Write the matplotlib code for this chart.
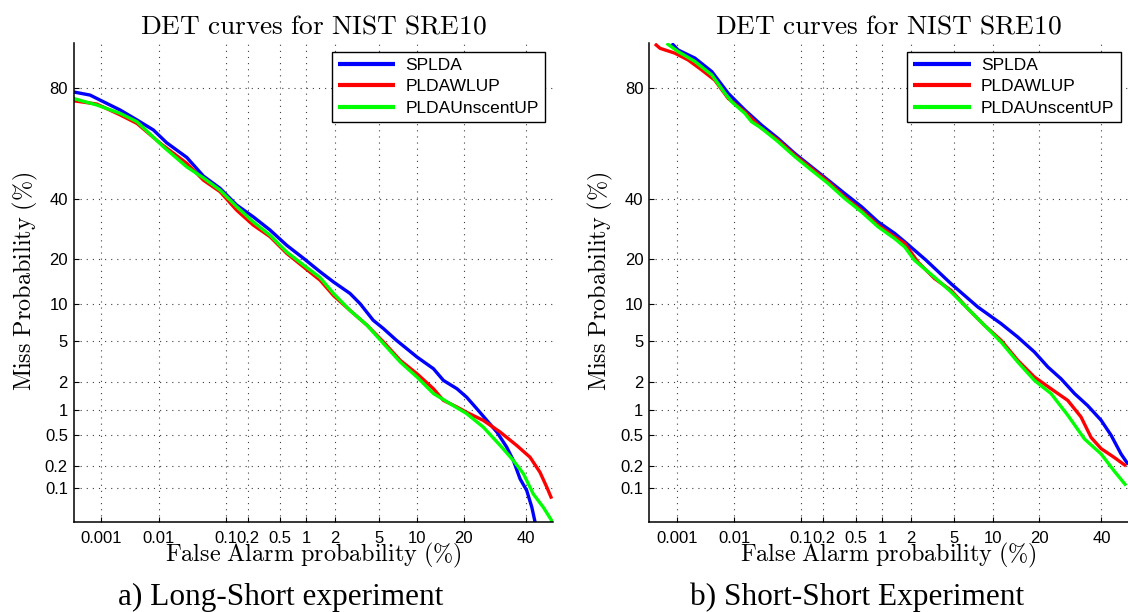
import math
from statistics import NormalDist

import numpy as np
import matplotlib
matplotlib.use("Agg")
import matplotlib.pyplot as plt
from matplotlib.ticker import FixedLocator, FixedFormatter, NullLocator

plt.rcParams["mathtext.fontset"] = "cm"

# ---------------------------------------------------------------- data (%)
series_names = ["SPLDA", "PLDAWLUP", "PLDAUnscentUP"]
series_colors = ["#0000ff", "#ff0000", "#00ff00"]

# a) Long-Short experiment
ls_fa_splda = [0.0003, 0.00062, 0.0011, 0.0022, 0.0043, 0.0081, 0.0133, 0.0274, 0.0485,
               0.084, 0.142, 0.234, 0.38, 0.60, 0.93, 1.40, 1.92, 2.78, 3.45, 4.5, 5.5,
               7.0, 10.0, 13.0, 15.1, 18.3, 20.8, 23.7, 26.7, 29.9, 33.2, 35.5, 37.9,
               40.3, 42.2, 43.4]
ls_miss_splda = [78.9, 78.0, 76.0, 73.4, 70.1, 66.6, 61.9, 56.3, 49.0,
                 44.2, 37.8, 33.5, 28.9, 24.0, 20.2, 16.7, 14.3, 11.9, 10.0, 7.44, 6.35,
                 5.04, 3.55, 2.74, 2.09, 1.71, 1.39, 1.03, 0.757, 0.548, 0.355, 0.238, 0.133,
                 0.091, 0.051, 0.030]

ls_fa_wlup = [0.0003, 0.00083, 0.0022, 0.0043, 0.0105, 0.0274, 0.0485, 0.084, 0.142,
              0.234, 0.38, 0.60, 0.93, 1.40, 1.92, 2.78, 3.96, 5.5, 7.5, 10.0, 13.0,
              15.1, 18.3, 20.8, 25.6, 31.0, 36.7, 41.5, 45.2, 47.8, 49.6]
ls_miss_wlup = [76.3, 75.3, 71.8, 68.9, 61.7, 54.0, 47.4, 42.9, 35.9,
                30.6, 26.7, 21.6, 17.9, 14.7, 11.5, 8.9, 6.8, 4.87, 3.30, 2.44, 1.71,
                1.28, 1.08, 0.94, 0.757, 0.548, 0.373, 0.263, 0.165, 0.101, 0.069]

ls_fa_unscent = [0.0003, 0.00083, 0.0022, 0.0043, 0.0118, 0.0274, 0.0485, 0.084, 0.142,
                 0.234, 0.38, 0.60, 0.93, 1.40, 1.92, 2.78, 3.96, 5.5, 7.5, 10.0, 13.0,
                 16.6, 20.8, 25.6, 31.0, 35.5, 39.1, 42.7, 46.5, 50.0]
ls_miss_unscent = [77.0, 75.0, 72.3, 69.5, 60.4, 52.6, 48.3, 43.5, 37.2,
                   31.7, 27.2, 22.0, 18.4, 15.3, 11.9, 8.9, 6.8, 4.71, 3.18, 2.26, 1.52,
                   1.18, 0.91, 0.63, 0.373, 0.238, 0.157, 0.081, 0.051, 0.030]

# b) Short-Short experiment
ss_fa_splda = [0.00081, 0.00106, 0.00213, 0.0042, 0.0079, 0.0147, 0.0267, 0.0471, 0.082,
               0.139, 0.230, 0.371, 0.589, 0.909, 1.37, 1.74, 2.81, 4.72, 7.77, 11.5,
               14.85, 18.8, 22.4, 26.3, 30.6, 35.1, 39.9, 43.6, 47.3, 50.0]
ss_miss_splda = [90.0, 88.8, 87.2, 84.2, 78.5, 73.4, 68.3, 63.5, 57.8,
                 52.6, 47.4, 42.2, 37.2, 31.7, 27.8, 25.1, 19.7, 13.9, 9.46, 6.98,
                 5.38, 3.95, 2.85, 2.17, 1.52, 1.12, 0.76, 0.50, 0.29, 0.21]

ss_fa_wlup = [0.00039, 0.00049, 0.00092, 0.00162, 0.0028, 0.0047, 0.0079, 0.0147, 0.0267,
              0.0471, 0.082, 0.139, 0.230, 0.371, 0.589, 0.909, 1.37, 1.74, 2.35, 3.36,
              4.72, 6.49, 8.72, 11.5, 14.85, 18.8, 23.3, 28.4, 32.8, 36.3, 39.9, 44.8, 49.2]
ss_miss_wlup = [89.9, 89.1, 88.2, 86.8, 84.6, 82.1, 77.0, 72.8, 67.2,
                62.9, 57.2, 52.0, 46.8, 40.9, 35.9, 30.6, 26.7, 24.6, 19.2, 15.1,
                12.5, 9.19, 6.77, 5.04, 3.30, 2.26, 1.71, 1.28, 0.83, 0.47, 0.34, 0.26, 0.20]

ss_fa_unscent = [0.00065, 0.00106, 0.00213, 0.0042, 0.0070, 0.0090, 0.0147, 0.0187, 0.0267,
                 0.0471, 0.082, 0.139, 0.230, 0.371, 0.589, 0.909, 1.37, 1.74, 2.17, 3.36,
                 4.72, 6.49, 8.72, 11.5, 14.85, 18.8, 23.3, 28.4, 34.0, 39.9, 44.8, 49.2]
ss_miss_unscent = [90.0, 88.5, 86.5, 83.4, 78.5, 76.0, 72.3, 69.5, 67.2,
                   62.3, 56.6, 51.3, 46.1, 40.3, 35.3, 30.0, 26.1, 23.5, 19.7, 15.4,
                   12.2, 9.19, 6.77, 4.87, 3.18, 2.09, 1.52, 0.87, 0.45, 0.29, 0.17, 0.107]

x_ticks = [0.001, 0.01, 0.1, 0.2, 0.5, 1, 2, 5, 10, 20, 40]
x_tick_labels = ["0.001", "0.01", "0.1", "0.2", "0.5", "1", "2", "5", "10", "20", "40"]
y_ticks = [0.1, 0.2, 0.5, 1, 2, 5, 10, 20, 40, 80]
y_tick_labels = ["0.1", "0.2", "0.5", "1", "2", "5", "10", "20", "40", "80"]

x_limits = (0.0003, 50.0)
y_limits = (0.03, 90.0)

panels = [
    ("a) Long-Short experiment",
     [(ls_fa_splda, ls_miss_splda), (ls_fa_wlup, ls_miss_wlup), (ls_fa_unscent, ls_miss_unscent)]),
    ("b) Short-Short Experiment",
     [(ss_fa_splda, ss_miss_splda), (ss_fa_wlup, ss_miss_wlup), (ss_fa_unscent, ss_miss_unscent)]),
]

# ------------------------------------------------------- normal-deviate scale
_norm = NormalDist()


def to_probit(v):
    a = np.asarray(v, dtype=float)
    p = np.clip(a / 100.0, 1e-12, 1.0 - 1e-12)
    out = np.array([_norm.inv_cdf(t) if np.isfinite(t) else np.nan for t in p.ravel()])
    return out.reshape(a.shape)


def from_probit(z):
    a = np.asarray(z, dtype=float)
    out = np.array([50.0 * math.erfc(-t / math.sqrt(2.0)) if np.isfinite(t) else np.nan
                    for t in a.ravel()])
    return out.reshape(a.shape)


# ---------------------------------------------------------------- figure
W, H = 1128, 612
fig = plt.figure(figsize=(W / 100, H / 100), dpi=100)
fig.patch.set_facecolor("white")

ax_w = 479.2 / W
ax_h = 479.0 / H
ax_bottom = 1 - 522.3 / H
ax_lefts = [73.5 / W, 649.0 / W]
caption_x = [281 / W, 857 / W]

tick_font = "Liberation Sans"
serif_size = 17.4

for i, (caption, curves) in enumerate(panels):
    ax = fig.add_axes([ax_lefts[i], ax_bottom, ax_w, ax_h])
    ax.set_xscale("function", functions=(to_probit, from_probit))
    ax.set_yscale("function", functions=(to_probit, from_probit))

    for (fa, miss), name, color in zip(curves, series_names, series_colors):
        ax.plot(fa, miss, color=color, lw=2.4, label=name, solid_capstyle="butt",
                solid_joinstyle="round")

    ax.set_xlim(*x_limits)
    ax.set_ylim(*y_limits)

    ax.xaxis.set_major_locator(FixedLocator(x_ticks))
    ax.xaxis.set_major_formatter(FixedFormatter(x_tick_labels))
    ax.yaxis.set_major_locator(FixedLocator(y_ticks))
    ax.yaxis.set_major_formatter(FixedFormatter(y_tick_labels))
    ax.xaxis.set_minor_locator(NullLocator())
    ax.yaxis.set_minor_locator(NullLocator())

    ax.grid(True, which="major", color="0.25", linestyle=(0, (1, 4.5)), linewidth=0.8)
    ax.set_axisbelow(True)

    for side in ("top", "right"):
        ax.spines[side].set_visible(False)
    for side in ("left", "bottom"):
        ax.spines[side].set_linewidth(1.1)
        ax.spines[side].set_color("black")

    ax.tick_params(axis="both", direction="in", length=3.5, width=0.8, color="black",
                   labelsize=12, labelcolor="black")
    ax.tick_params(axis="x", pad=6)
    ax.tick_params(axis="y", pad=4)
    for lab in ax.get_xticklabels() + ax.get_yticklabels():
        lab.set_family(tick_font)

    ax.set_title(r"$\mathrm{DET\ curves\ for\ NIST\ SRE10}$", fontsize=19.7, pad=7)
    ax.text(0.5, (522.3 - 555) / 479.0, r"$\mathrm{False\ Alarm\ probability\ (\%)}$",
            transform=ax.transAxes, ha="center", va="center", fontsize=serif_size)
    ax.text(-0.101, 0.503, r"$\mathrm{Miss\ Probability\ (\%)}$",
            transform=ax.transAxes, ha="center", va="center", rotation=90,
            fontsize=serif_size)

    leg = ax.legend(loc="upper right", bbox_to_anchor=(0.984, 0.9825), borderaxespad=0,
                    frameon=True, fancybox=False, framealpha=1, edgecolor="black",
                    prop={"family": tick_font, "size": 12.5}, handlelength=3.3,
                    handletextpad=0.6, labelspacing=0.36, borderpad=0.35)
    leg.get_frame().set_linewidth(1.0)
    for handle in leg.get_lines():
        handle.set_linewidth(3.0)

    fig.text(caption_x[i], 1 - 597 / H, caption, ha="center", va="center",
             family="Liberation Serif", fontsize=22.5)

fig.savefig("out.png", dpi=100, facecolor="white")
